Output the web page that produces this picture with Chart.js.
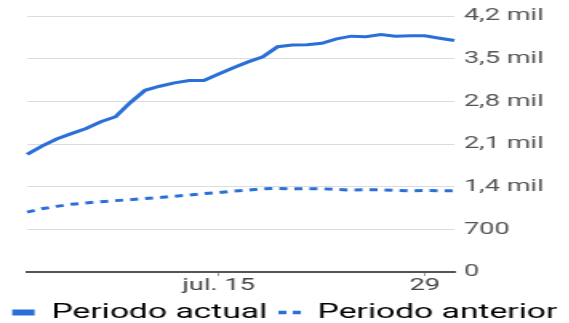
<!DOCTYPE html>
<html><head><meta charset="utf-8">
<script src="https://cdn.jsdelivr.net/npm/chart.js@4/dist/chart.umd.min.js"></script>
<style>
html,body{margin:0;padding:0;background:#fff;overflow:hidden}
#outer{width:569px;height:323px;overflow:hidden}
#wrap{width:356px;height:323px;transform:scaleX(1.6);transform-origin:0 0}
</style>
</head><body><div id="outer"><div id="wrap"><canvas id="c"></canvas></div></div>
<script>
const days = [2,3,4,5,6,7,8,9,10,11,12,13,14,15,16,17,18,19,20,21,22,23,24,25,26,27,28,29,30,31];
const tickLabels = {15: 'jul. 15', 29: '29'};
const periodoActual = [1933,2067,2183,2272,2355,2467,2550,2783,2983,3050,3105,3145,3145,3250,3355,3450,3533,3700,3728,3733,3755,3828,3872,3862,3900,3872,3878,3878,3838,3800];
const periodoAnterior = [983,1038,1078,1112,1133,1155,1172,1188,1205,1222,1245,1262,1288,1305,1328,1345,1367,1372,1367,1367,1367,1355,1345,1350,1350,1340,1333,1340,1333,1333];
const yTicks = [0,700,1400,2100,2800,3500,4200];
const blue = '#2a6fd8';

function fmt(v){ return v < 1000 ? String(v) : (v/1000).toFixed(1).replace('.', ',') + ' mil'; }

new Chart(document.getElementById('c'), {
  type: 'line',
  data: {
    labels: days,
    datasets: [
      {label: 'Periodo actual', data: periodoActual, yAxisID: 'y', borderColor: blue, borderWidth: 3, pointRadius: 0, tension: 0, fill: false},
      {label: 'Periodo anterior', data: periodoAnterior, yAxisID: 'y', borderColor: blue, borderWidth: 3, borderDash: [5, 4.4], pointRadius: 0, tension: 0, fill: false}
    ]
  },
  options: {
    responsive: true, maintainAspectRatio: false, animation: false,
    layout: {padding: {left: 0, right: 0, top: 7.5, bottom: -10}},
    plugins: {
      tooltip: {enabled: false},
      legend: {
        position: 'bottom',
        labels: {
          usePointStyle: true, pointStyle: 'line', pointStyleWidth: 14,
          color: '#222', font: {family: 'Roboto', size: 21}, padding: 7, boxHeight: 10,
          generateLabels(chart) {
            return chart.data.datasets.map((d, i) => ({
              text: d.label, fillStyle: blue, strokeStyle: blue,
              lineWidth: i === 0 ? 6 : 3.5, lineCap: 'butt',
              lineDash: i === 0 ? [] : [5, 4], pointStyle: 'line', datasetIndex: i, hidden: false
            }));
          }
        }
      }
    },
    scales: {
      x: {
        offset: false,
        grid: {drawOnChartArea: false, drawTicks: true, tickLength: 4,
          color: ctx => (ctx.tick && tickLabels[days[ctx.index]]) ? '#999' : 'rgba(0,0,0,0)'},
        border: {display: true, color: '#555', width: 2},
        ticks: {autoSkip: false, maxRotation: 0, color: '#444', font: {family: 'Roboto', size: 17, lineHeight: 1}, padding: 1,
          callback: (v, i) => tickLabels[days[i]] || ''}
      },
      yLeft: {
        position: 'left', display: true,
        grid: {display: false}, border: {display: false}, ticks: {display: false},
        afterFit: s => { s.width = 17; }
      },
      y: {
        position: 'right', min: 0, max: 4200,
        afterBuildTicks: s => { s.ticks = yTicks.map(v => ({value: v})); },
        afterFit: s => { s.width = 72; },
        grid: {color: '#dcdcdc', lineWidth: 1, drawTicks: false},
        border: {display: false},
        ticks: {color: '#555', font: {family: 'Roboto', size: 17}, padding: 6, callback: v => fmt(v)}
      }
    }
  }
});
</script></body></html>
